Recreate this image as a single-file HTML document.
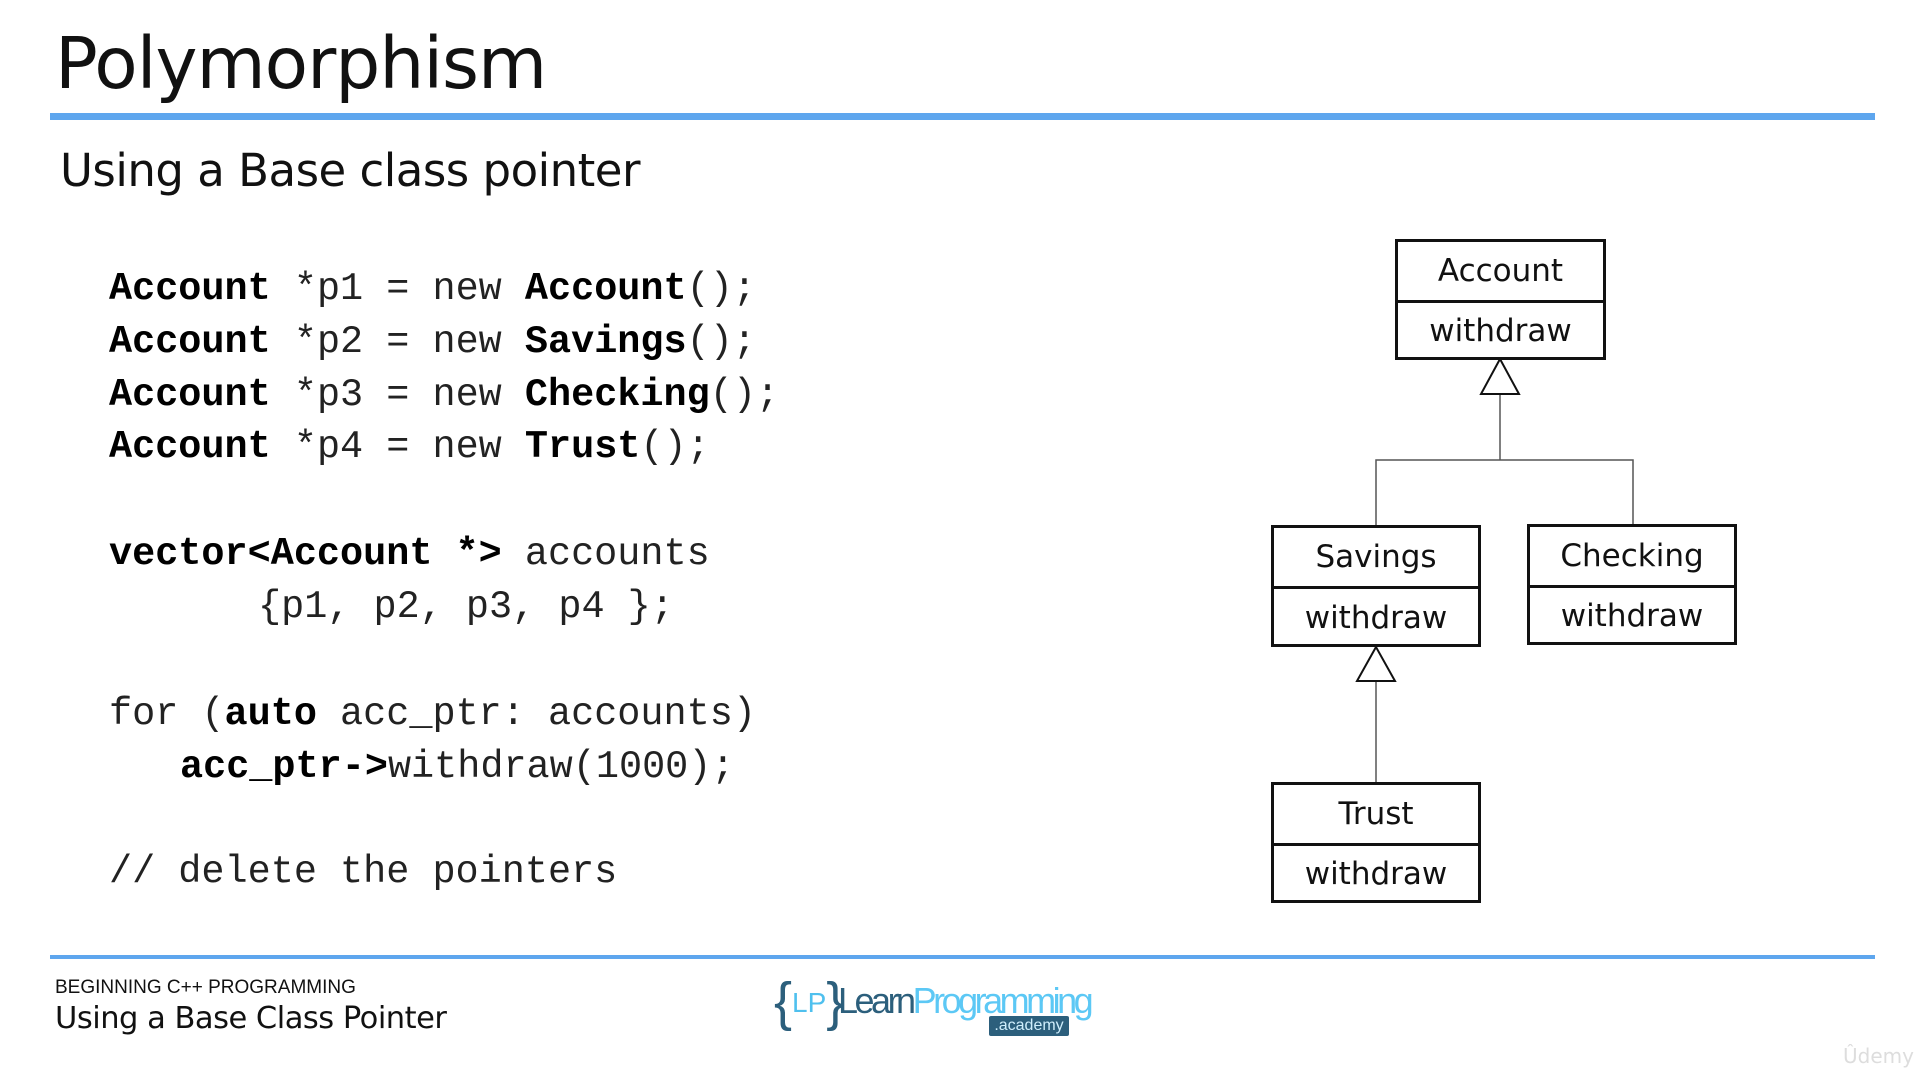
<!DOCTYPE html>
<html><head><meta charset="utf-8"><style>
body{margin:0;width:1920px;height:1080px;background:#fff;position:relative;overflow:hidden;font-family:"DejaVu Sans","Liberation Sans",sans-serif;color:#111}
.a{position:absolute;white-space:pre;line-height:1}
.code{font-family:"Liberation Mono","DejaVu Sans Mono",monospace;font-size:38.5px;color:#222}
.code b{color:#000}
.bar{position:absolute;left:50px;width:1825px;background:#5ea6ee}
.box{position:absolute;border:3px solid #111;box-sizing:border-box;font-size:31px;text-align:center}
.box div{height:50%;display:flex;align-items:center;justify-content:center}
.box div:first-child{border-bottom:3px solid #111}
</style></head><body>
<div class="a" style="left:55px;top:28px;font-size:71px;letter-spacing:-1px">Polymorphism</div>
<div class="bar" style="top:113px;height:7px"></div>
<div class="a" style="left:60px;top:148px;font-size:45px;letter-spacing:-0.5px">Using a Base class pointer</div>

<div class="a code" style="left:109px;top:270px"><b>Account</b> *p1 = new <b>Account</b>();</div>
<div class="a code" style="left:109px;top:323px"><b>Account</b> *p2 = new <b>Savings</b>();</div>
<div class="a code" style="left:109px;top:376px"><b>Account</b> *p3 = new <b>Checking</b>();</div>
<div class="a code" style="left:109px;top:428px"><b>Account</b> *p4 = new <b>Trust</b>();</div>
<div class="a code" style="left:109px;top:535px"><b>vector&lt;Account *&gt;</b> accounts</div>
<div class="a code" style="left:258px;top:588px">{p1, p2, p3, p4 };</div>
<div class="a code" style="left:109px;top:695px">for (<b>auto</b> acc_ptr: accounts)</div>
<div class="a code" style="left:180px;top:748px"><b>acc_ptr-&gt;</b>withdraw(1000);</div>
<div class="a code" style="left:109px;top:853px">// delete the pointers</div>

<svg style="position:absolute;left:0;top:0" width="1920" height="1080">
<g stroke="#555" stroke-width="1.5" fill="none">
<line x1="1500" y1="394" x2="1500" y2="460"/>
<polyline points="1376,526 1376,460 1633,460 1633,525"/>
<line x1="1376" y1="681" x2="1376" y2="784"/>
</g>
<polygon points="1500,359 1481,394 1519,394" fill="#fff" stroke="#111" stroke-width="2"/>
<polygon points="1376,647 1357,681 1395,681" fill="#fff" stroke="#111" stroke-width="2"/>
</svg>
<div class="box" style="left:1395px;top:239px;width:211px;height:121px"><div>Account</div><div>withdraw</div></div>
<div class="box" style="left:1271px;top:525px;width:210px;height:122px"><div>Savings</div><div>withdraw</div></div>
<div class="box" style="left:1527px;top:524px;width:210px;height:121px"><div>Checking</div><div>withdraw</div></div>
<div class="box" style="left:1271px;top:782px;width:210px;height:121px"><div>Trust</div><div>withdraw</div></div>

<div class="bar" style="top:955px;height:4px"></div>
<div class="a" style="left:55px;top:978px;font-size:19px;font-family:'Liberation Sans',sans-serif">BEGINNING C++ PROGRAMMING</div>
<div class="a" style="left:55px;top:1004px;font-size:30.5px;letter-spacing:-0.5px">Using a Base Class Pointer</div>
<div class="a" style="left:774px;top:975px;font-size:54px;color:#2c5f7c;font-family:'Liberation Sans',sans-serif">{<span style="font-size:28px;color:#4fc0ee;vertical-align:8px">LP</span>}</div>
<div class="a" style="left:838px;top:983px;font-size:36px;letter-spacing:-3.5px;font-family:'Liberation Sans',sans-serif"><span style="color:#2c5f7c">Learn</span><span style="color:#5cc8f5">Programming</span></div>
<div class="a" style="left:989px;top:1016px;width:80px;height:20px;background:#2c5f7c;color:#cfeefc;font-size:16px;text-align:center;border-radius:2px;line-height:20px;font-family:'Liberation Sans',sans-serif">.academy</div>
<div class="a" style="left:1843px;top:1046px;font-size:20px;color:#ddd">Ûdemy</div>
</body></html>
